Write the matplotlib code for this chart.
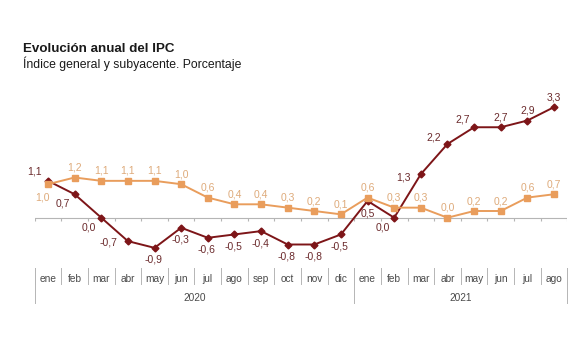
import matplotlib
matplotlib.use('Agg')
import matplotlib.pyplot as plt
import numpy as np

plt.rcParams['font.family'] = ['Liberation Sans', 'DejaVu Sans']

months = ['ene', 'feb', 'mar', 'abr', 'may', 'jun', 'jul', 'ago', 'sep', 'oct', 'nov', 'dic',
          'ene', 'feb', 'mar', 'abr', 'may', 'jun', 'jul', 'ago']
years = ['2020', '2021']
months_per_year = [12, 8]

ipc_general = [1.1, 0.7, 0.0, -0.7, -0.9, -0.3, -0.6, -0.5, -0.4, -0.8, -0.8, -0.5,
               0.5, 0.0, 1.3, 2.2, 2.7, 2.7, 2.9, 3.3]
ipc_subyacente = [1.0, 1.2, 1.1, 1.1, 1.1, 1.0, 0.6, 0.4, 0.4, 0.3, 0.2, 0.1,
                  0.6, 0.3, 0.3, 0.0, 0.2, 0.2, 0.6, 0.7]

RED = '#7d1518'
ORANGE = '#e99d5c'
RED_TXT = '#6b2a2c'
ORANGE_TXT = '#deaa7a'

# label offsets (pixels) for each point
red_off = [(-13, 9), (-12, -9), (-12, -10), (-19, -1)] + [(-1, -12)] * 8 + \
          [(0, -13), (-11, -10), (-17, -3), (-14, 6), (-11, 8), (0, 10), (0, 10), (0, 10)]
orange_off = [(-6, -13)] + [(0, 10)] * 19

fig = plt.figure(figsize=(5.88, 3.53), dpi=100)
ax = fig.add_axes([34.7 / 588, 1 - 265 / 353, (567.3 - 34.7) / 588, 175 / 353])

x = np.arange(len(months))
ax.set_xlim(-0.5, len(months) - 0.5)
ax.set_ylim(-(265 - 217.7) / 33.5, (217.7 - 90) / 33.5)

# zero line with small ticks
ax.axhline(0, color='#b5b5b5', lw=0.8, zorder=1)
ax.vlines(np.arange(len(months) + 1) - 0.5, -0.09, 0, color='#b5b5b5', lw=0.8, zorder=1)

ax.plot(x, ipc_general, color=RED, lw=1.4, marker='D', markersize=3.5, zorder=3)
ax.plot(x, ipc_subyacente, color=ORANGE, lw=1.4, marker='s', markersize=5, zorder=4)

fmt = lambda v: f'{v:.1f}'.replace('.', ',')
for i, v in enumerate(ipc_general):
    ax.annotate(fmt(v), (x[i], v), xytext=red_off[i], textcoords='offset pixels',
                ha='center', va='center', fontsize=7.5, color=RED_TXT)
for i, v in enumerate(ipc_subyacente):
    ax.annotate(fmt(v), (x[i], v), xytext=orange_off[i], textcoords='offset pixels',
                ha='center', va='center', fontsize=7.5, color=ORANGE_TXT)

# category axis below
trans = ax.get_xaxis_transform()
sep_col = '#b5b5b5'
for i, m in enumerate(months):
    ax.text(x[i], -0.08, m, transform=trans, ha='center', va='center', fontsize=7.3,
            color='#4a4a4a', clip_on=False)
for b in np.arange(len(months) + 1) - 0.5:
    ax.plot([b, b], [-0.017, -0.109], transform=trans, color=sep_col, lw=0.7, clip_on=False)
start = -0.5
for yr, n in zip(years, months_per_year):
    ax.plot([start, start], [-0.017, -0.217], transform=trans, color=sep_col, lw=0.7, clip_on=False)
    ax.text(start + n / 2, -0.189, yr, transform=trans, ha='center', va='center', fontsize=7.3,
            color='#4a4a4a', clip_on=False)
    start += n
ax.plot([start, start], [-0.017, -0.217], transform=trans, color=sep_col, lw=0.7, clip_on=False)

for s in ax.spines.values():
    s.set_visible(False)
ax.set_xticks([])
ax.set_yticks([])

fig.text(23 / 588, 1 - 49 / 353, 'Evolución anual del IPC', fontsize=9.6, fontweight='bold',
         color='#1a1a1a', va='center')
fig.text(23 / 588, 1 - 64 / 353, 'Índice general y subyacente. Porcentaje', fontsize=8.8,
         color='#1a1a1a', va='center')

fig.savefig('out.png', dpi=100)
